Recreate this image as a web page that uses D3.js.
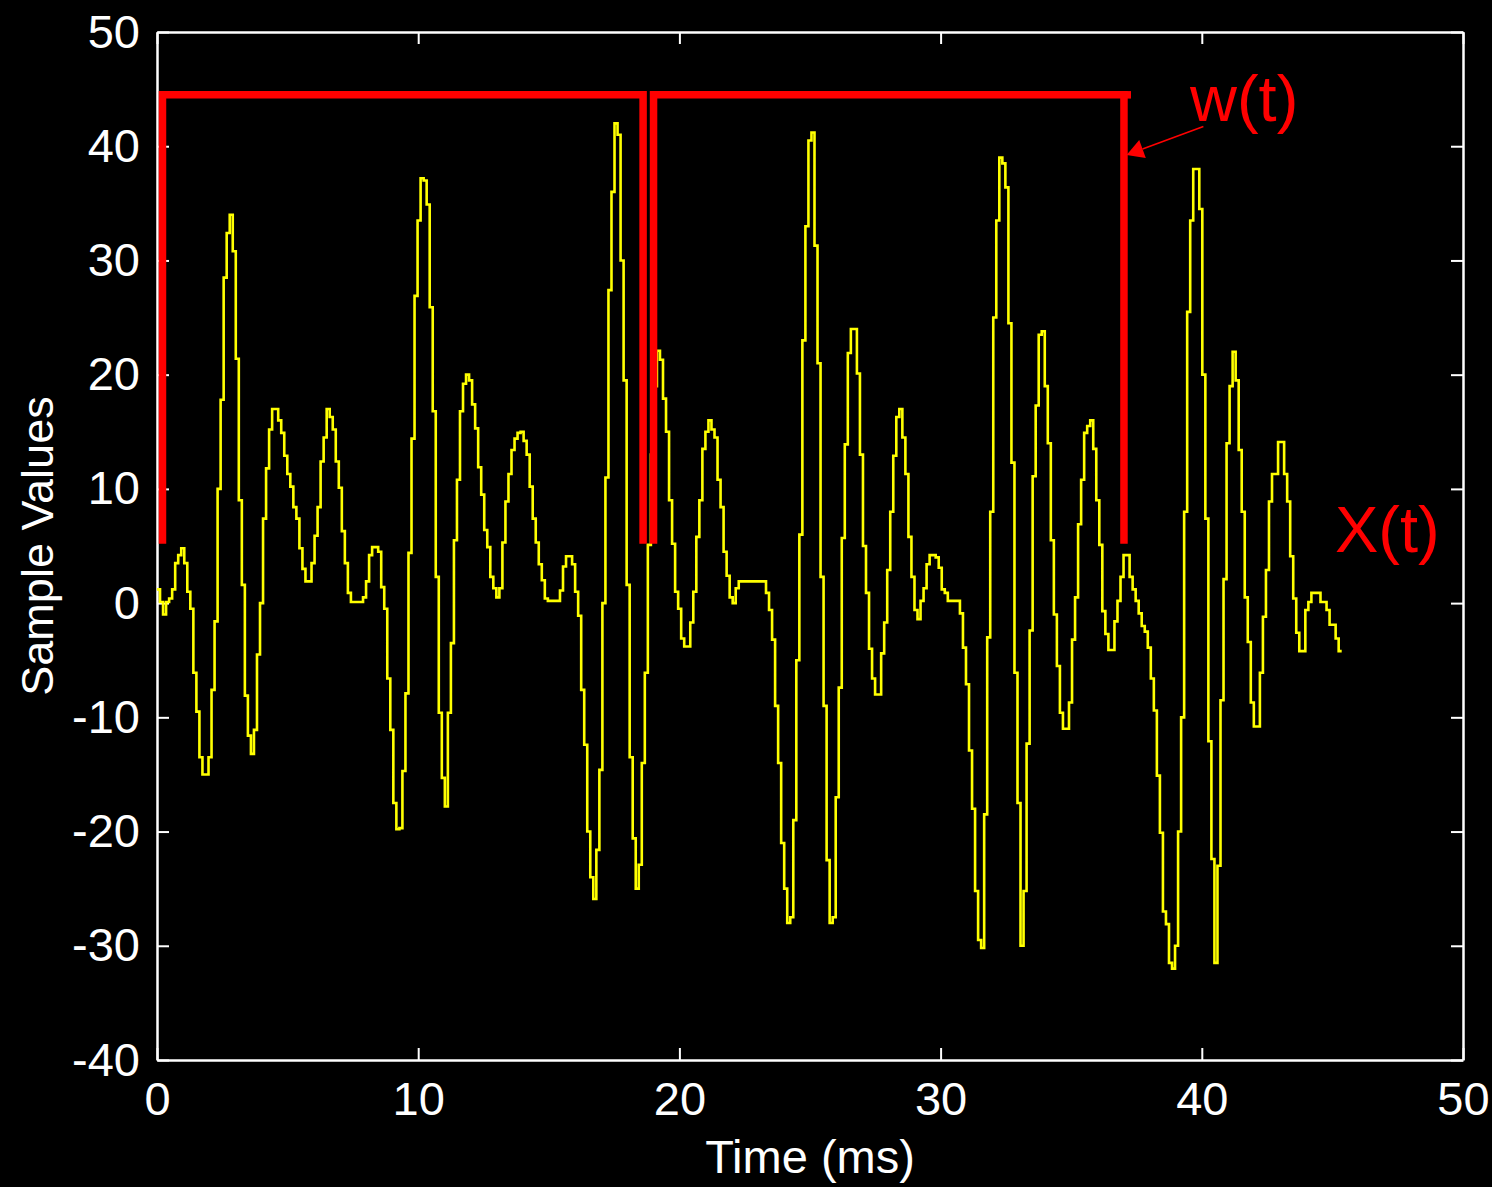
<!DOCTYPE html>
<html>
<head>
<meta charset="utf-8">
<script src="https://cdn.jsdelivr.net/npm/d3@7"></script>
<style>
  html, body { margin: 0; padding: 0; background: #000; }
  svg { display: block; }
  .axis .domain { stroke: #fff; stroke-width: 2.5; }
  .axis .tick line { stroke: #fff; stroke-width: 2; }
  .axis text { fill: #fff; font-family: "Liberation Sans", Arial, sans-serif; font-size: 47px; }
</style>
</head>
<body>
<svg id="chart" width="1492" height="1187"></svg>
<script>
// Sampling interval of the speech segment, in milliseconds
const samplePeriodMs = 0.116;

// Sample values, one per sampling interval, starting at t = 0
const samples = [
  1.2, 0.1, -1, 0.1, 0.4, 1.2, 3.5, 4.2, 4.8, 3.5, 1, -0.5, -6.1, -9.5, -13.5, -15, -15, -13.5, -7.6, -1.6,
  10, 17.8, 28.5, 32.4, 34,
  30.8, 21.4, 9, 1.6, -8.1, -11.6, -13.2, -11.1, -4.5, 0, 7.4, 11.8, 15.2, 17, 17, 16, 14.9, 12.9, 11.3, 10.2,
  8.4, 7.4, 4.8, 3, 1.9, 1.9, 3.5, 5.9, 8.4, 12.4, 14.5, 17, 16.3, 15.2, 12.4, 10.1, 6.3, 3.5, 0.9, 0.1,
  0.1, 0.1, 0.1, 0.5, 1.9, 4.2, 4.9, 4.9, 4.5, 1.4, -0.5, -6.6, -11.1, -17.5, -19.8,
  -19.7, -14.7, -7.9, 4.4, 14.4, 26.9, 33.5, 37.2, 37, 34.9, 25.9, 16.8, 2.3, -9.6, -15.3, -17.8, -9.6, -3.5,
  5.5, 10.8, 16.8, 19.2, 20, 19.5, 17.4, 15.3, 11.9, 9.5, 6.4, 4.9, 2.3, 1.3, 0.5, 1.3, 5.3, 8.9, 11.3, 13.4,
  14.4, 14.9, 15, 14.2, 13, 10.2, 7.4, 5.3, 3.4, 2, 0.4, 0.2, 0.2, 0.2, 0.2, 1.1, 3.2, 4.1, 4.1, 3.4, 1, -1.1,
  -7.6, -12.4, -20, -24, -25.9, -21.6, -14.6, 0, 11, 27.4, 36, 42, 41, 30, 19.5, 1.6, -13.5, -20.6, -25,
  -22.9, -14, -6.1, 5.1, 13, 19,
  22.1, 21.3, 17.9, 15, 9, 5.2, 1, -0.5, -3.1, -3.8, -3.8, -1.7, 1, 5.8, 9, 13.5, 15, 16, 15.2, 14.5, 10.8,
  8.4, 4.5, 2.4, 0.5, 0, 1.3, 1.9, 1.9, 1.9, 1.9, 1.9, 1.9, 1.9, 1.9, 1.9, 0.9, -0.6, -3.2, -9, -14,
  -21, -25, -28, -27.5, -19, -5, 6, 23, 33, 40.5, 41.2, 31.3, 21, 2.3, -9, -22.5, -28, -27.5, -17, -7.4, 5.7,
  13.9, 21.9, 24, 24, 20.1, 13, 5, 0.9, -4, -6.6, -8, -8, -4.4, -1.7, 2.9, 8, 12.9, 16.3, 17, 14.5, 11.3, 5.8,
  2.3, -0.6, -1.4, 0.2, 1.3, 3.4, 4.2, 4.2, 4, 3.1, 1.2, 0.9, 0.2, 0.2, 0.2, 0.2, -0.9,
  -3.9, -7.1, -12.9, -18, -25.2, -29.5, -30.2, -18.5, -3, 8, 25, 33.5, 39, 38.5, 36.4, 24.5, 12.3, -6.1, -17.5,
  -30, -25.2, -12.3, -2.4, 11.1, 17.3, 23.5, 23.8, 19, 14, 5.5, -1, -5.5, -9.6, -11, -11, -8.7, -3.2, 0.5, 6.9,
  10.8, 14.9, 15.5, 16, 13.5, 9, 5.1, -0.7, -2.7, -4.1, -4.1, -1.6, 0.2, 2.3, 4.2, 4.2, 2.3, 1.2, 0.2, -0.9, -2,
  -2.5, -3.9, -6.6, -9.4, -15.1, -20.1, -27, -28.1, -31.5, -32,
  -30, -20, -10, 8, 25.5, 33.5, 38, 38, 34.5, 20, 7.4, -12.1, -22.4, -31.5, -23, -8.5, 2.1, 14, 19, 22, 19.5,
  13.4, 8, 0.5, -3.4, -8.7, -10.8, -10.8, -6.1, -1.2, 2.9, 8.9, 11.3, 11.3, 14.1, 14.1, 11.3, 8.9, 4.1, 0.4,
  -2.6, -4.2, -4.2, -0.6, 0.1, 0.9, 0.9, 0.9, 0.1, 0.1, -0.6, -1.9, -1.9, -3.1, -4.2
];

// Axis ticks
const xTicks = [0, 10, 20, 30, 40, 50];
const yTicks = [-40, -30, -20, -10, 0, 10, 20, 30, 40, 50];

// Analysis windows w(t): start / end times (ms) and vertical extent (sample units)
const windowStartMs = [0.21, 19.01];
const windowEndMs = [18.61, 37.02];
const windowTopEndMs = [18.61, 37.29];
const windowTop = 44.5;
const windowBottom = 5.2;

// Annotation arrow for w(t): tail and tip in (ms, value)
const arrowTail = [40.06, 41.72];
const arrowTip = [37.12, 39.24];

const xLabel = "Time (ms)";
const yLabel = "Sample Values";
const windowLabel = "w(t)";
const signalLabel = "X(t)";

const svg = d3.select("#chart");
const x = d3.scaleLinear().domain([0, 50]).range([157, 1463]);
const y = d3.scaleLinear().domain([-40, 50]).range([1060, 32]);

// Axes with inward ticks on all four sides
const fmt = d => String(d);
svg.append("g").attr("class", "axis").attr("transform", "translate(0,1060)")
  .call(d3.axisBottom(x).tickValues(xTicks).tickSize(-12).tickSizeOuter(0).tickPadding(22).tickFormat(fmt));
svg.append("g").attr("class", "axis").attr("transform", "translate(0,32)")
  .call(d3.axisTop(x).tickValues(xTicks).tickSize(-12).tickSizeOuter(0).tickFormat(""));
svg.append("g").attr("class", "axis").attr("transform", "translate(157,0)")
  .call(d3.axisLeft(y).tickValues(yTicks).tickSize(-12).tickSizeOuter(0).tickPadding(17).tickFormat(fmt));
svg.append("g").attr("class", "axis").attr("transform", "translate(1463,0)")
  .call(d3.axisRight(y).tickValues(yTicks).tickSize(-12).tickSizeOuter(0).tickFormat(""));

// Axis titles
svg.append("text")
  .attr("x", 810).attr("y", 1173)
  .attr("text-anchor", "middle")
  .attr("fill", "#fff")
  .style("font-family", '"Liberation Sans", Arial, sans-serif')
  .style("font-size", "47px")
  .text(xLabel);
svg.append("text")
  .attr("transform", "translate(53,546) rotate(-90)")
  .attr("text-anchor", "middle")
  .attr("fill", "#fff")
  .style("font-family", '"Liberation Sans", Arial, sans-serif')
  .style("font-size", "45px")
  .text(yLabel);

// Signal drawn as a staircase (sample-and-hold)
const pts = samples.map((v, i) => [i * samplePeriodMs, v]);
pts.push([samples.length * samplePeriodMs, samples[samples.length - 1]]);
const stair = d3.line()
  .x(d => x(d[0]))
  .y(d => y(d[1]))
  .curve(d3.curveStepAfter);
svg.append("path")
  .datum(pts)
  .attr("d", stair)
  .attr("fill", "none")
  .attr("stroke", "#ffff00")
  .attr("stroke-width", 2.6)
  .attr("stroke-linejoin", "miter");

// Rectangular analysis windows (open at the bottom)
const red = "#ff0000";
const wg = svg.append("g");
windowStartMs.forEach((s, k) => {
  const e = windowEndMs[k];
  const poly = [[s, windowBottom], [s, windowTop], [e, windowTop], [e, windowBottom]];
  wg.append("path")
    .attr("d", d3.line().x(d => x(d[0])).y(d => y(d[1]))(poly))
    .attr("fill", "none")
    .attr("stroke", red)
    .attr("stroke-width", 7.5)
    .attr("stroke-linejoin", "miter")
    .attr("stroke-linecap", "butt");
  if (windowTopEndMs[k] > e) {
    wg.append("line")
      .attr("x1", x(e)).attr("x2", x(windowTopEndMs[k]))
      .attr("y1", y(windowTop)).attr("y2", y(windowTop))
      .attr("stroke", red).attr("stroke-width", 7.5);
  }
});

// Arrow pointing from the w(t) label to the second window
const tx = x(arrowTail[0]), ty = y(arrowTail[1]);
const hx = x(arrowTip[0]), hy = y(arrowTip[1]);
const len = Math.hypot(hx - tx, hy - ty);
const ux = (hx - tx) / len, uy = (hy - ty) / len;
const headLen = 17, headHalf = 9.5;
const bx = hx - ux * headLen, by = hy - uy * headLen;
svg.append("line")
  .attr("x1", tx).attr("y1", ty).attr("x2", bx).attr("y2", by)
  .attr("stroke", red).attr("stroke-width", 1.6);
svg.append("path")
  .attr("d", `M${hx},${hy}L${bx - uy * headHalf},${by + ux * headHalf}L${bx + uy * headHalf},${by - ux * headHalf}Z`)
  .attr("fill", red);

// Labels
svg.append("text")
  .attr("x", 1190).attr("y", 121)
  .attr("fill", red)
  .style("font-family", '"Liberation Sans", Arial, sans-serif')
  .style("font-size", "65px")
  .text(windowLabel);
svg.append("text")
  .attr("x", 1335).attr("y", 552)
  .attr("fill", red)
  .style("font-family", '"Liberation Sans", Arial, sans-serif')
  .style("font-size", "65px")
  .text(signalLabel);
</script>
</body>
</html>
